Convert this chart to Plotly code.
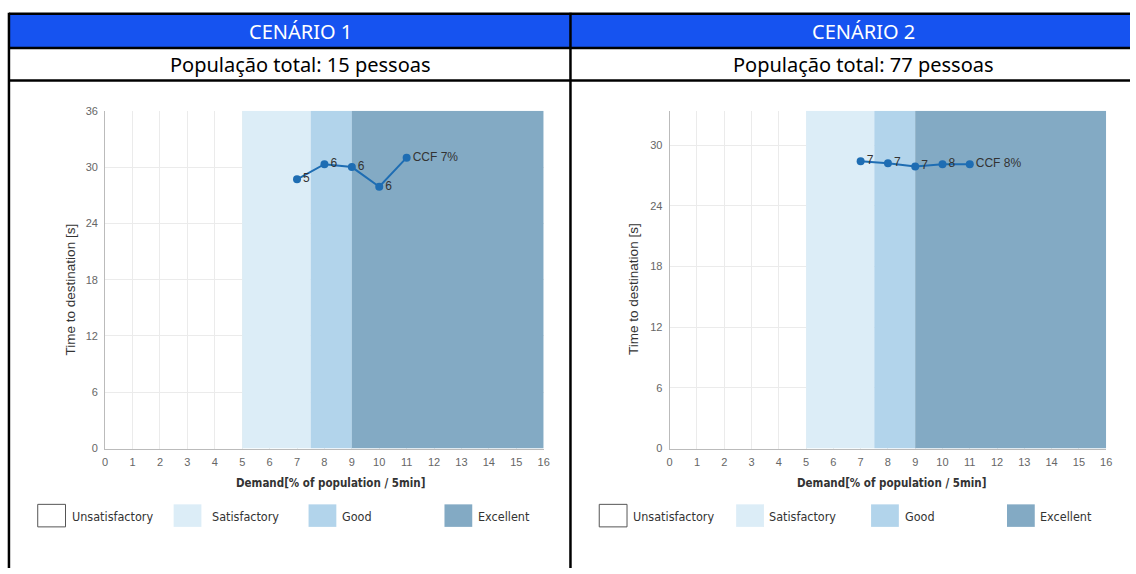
import plotly.graph_objects as go

W, H = 1136, 574

# data
demand = [7, 8, 9, 10, 11]
time_s1 = [28.7, 30.3, 30.0, 27.9, 31.0]
labels_s1 = ["5", "6", "6", "6", "CCF 7%"]
time_s2 = [28.4, 28.2, 27.9, 28.1, 28.1]
labels_s2 = ["7", "7", "7", "8", "CCF 8%"]

scenario_titles = ["CENÁRIO 1", "CENÁRIO 2"]
population_titles = ["População total: 15 pessoas", "População total: 77 pessoas"]

band_names = ["Unsatisfactory", "Satisfactory", "Good", "Excellent"]
band_edges = [0, 5, 7.5, 9, 16]
band_colors = ["#FFFFFF", "#DCEDF7", "#B2D4EB", "#83AAC4"]

x_ticks = list(range(0, 17))
y_ticks_s1 = [0, 6, 12, 18, 24, 30, 36]
y_ticks_s2 = [0, 6, 12, 18, 24, 30]
y_max = [36, 33.4]


def px(x):
    return x / W


def py(y):
    return 1 - y / H


TICK_FONT = dict(family="Liberation Sans, Arial", size=11, color="#666")
NARROW = "DejaVu Sans Condensed, Roboto, Liberation Sans"

fig = go.Figure()

# performance bands as bars, so they sit above the grid
band_mid = [(band_edges[b] + band_edges[b + 1]) / 2 for b in range(1, 4)]
band_w = [band_edges[b + 1] - band_edges[b] for b in range(1, 4)]
for i in range(2):
    fig.add_trace(go.Bar(
        x=band_mid, y=[y_max[i]] * 3, width=band_w,
        marker=dict(color=band_colors[1:], line=dict(width=0)),
        xaxis="x" if i == 0 else "x2", yaxis="y" if i == 0 else "y2",
        showlegend=False, hoverinfo="skip",
    ))

series = [(time_s1, labels_s1), (time_s2, labels_s2)]
for i, (ys, labs) in enumerate(series):
    fig.add_trace(go.Scatter(
        x=demand, y=ys, text=labs, mode="lines+markers+text",
        textposition="middle right",
        textfont=dict(family="Liberation Sans, Arial", size=12, color="#333"),
        line=dict(color="#1E6DB3", width=2),
        marker=dict(color="#1E6DB3", size=8),
        xaxis="x" if i == 0 else "x2", yaxis="y" if i == 0 else "y2",
        showlegend=False, cliponaxis=False,
    ))

x_domains = [[px(103), px(545)], [px(672), px(1112)]]
y_domain = [py(452), py(107)]
y_ticks = [y_ticks_s1, y_ticks_s2]

for i in range(2):
    xa = dict(domain=x_domains[i], range=[0, 16], tickvals=x_ticks,
              showgrid=True, gridcolor="#EBEBEB", gridwidth=1,
              showline=True, linecolor="#BBBBBB", linewidth=1,
              ticks="", tickfont=TICK_FONT, zeroline=False, fixedrange=True,
              ticklabelstandoff=3)
    ya = dict(domain=y_domain, range=[0, y_max[i]], tickvals=y_ticks[i],
              showgrid=True, gridcolor="#EBEBEB", gridwidth=1,
              showline=True, linecolor="#BBBBBB", linewidth=1,
              ticks="", tickfont=TICK_FONT, zeroline=False, fixedrange=True,
              ticklabelstandoff=4)
    if i == 0:
        ya["anchor"] = "x"
        xa["anchor"] = "y"
        fig.update_layout(xaxis=xa, yaxis=ya)
    else:
        ya["anchor"] = "x2"
        xa["anchor"] = "y2"
        fig.update_layout(xaxis2=xa, yaxis2=ya)

shapes = []
annotations = []

# table frame
shapes.append(dict(type="rect", xref="paper", yref="paper",
                   x0=px(7), x1=px(1136), y0=py(42), y1=py(9),
                   fillcolor="#1653F0", line=dict(width=0), layer="below"))
for yy in [8, 43, 76]:
    shapes.append(dict(type="line", xref="paper", yref="paper",
                       x0=px(6), x1=px(1136), y0=py(yy), y1=py(yy),
                       line=dict(color="#000", width=2.5)))
for xx in [6, 572]:
    shapes.append(dict(type="line", xref="paper", yref="paper",
                       x0=px(xx), x1=px(xx), y0=py(7), y1=py(574),
                       line=dict(color="#000", width=2.5)))

header_cx = [300, 867]
for i in range(2):
    annotations.append(dict(text=scenario_titles[i], x=px(header_cx[i]), y=py(26),
                            xref="paper", yref="paper", showarrow=False,
                            xanchor="center", yanchor="middle",
                            font=dict(family="Noto Sans", size=20, color="white")))
    annotations.append(dict(text=population_titles[i], x=px(header_cx[i]), y=py(60),
                            xref="paper", yref="paper", showarrow=False,
                            xanchor="center", yanchor="middle",
                            font=dict(family="Noto Sans", size=20, color="black")))

# axis titles
ytitle_x = [68, 636]
xtitle_cx = [330, 896]
for i in range(2):
    annotations.append(dict(text="Time to destination [s]", x=px(ytitle_x[i]), y=py(289),
                            xref="paper", yref="paper", showarrow=False, textangle=-90,
                            xanchor="center", yanchor="middle",
                            font=dict(family="Liberation Sans, Arial", size=13.5, color="#333")))
    annotations.append(dict(text="<b>Demand[% of population / 5min]</b>",
                            x=px(xtitle_cx[i]), y=py(487),
                            xref="paper", yref="paper", showarrow=False,
                            xanchor="center", yanchor="middle",
                            font=dict(family=NARROW, size=11.5, color="#333")))

# legends
legend_box_x = [[35, 172, 308, 445], [601, 739, 875, 1012]]
legend_text_x = [[68, 209, 340, 477], [633, 770, 907, 1043]]
for i in range(2):
    for b, name in enumerate(band_names):
        x0 = legend_box_x[i][b]
        if b == 0:
            shapes.append(dict(type="rect", xref="paper", yref="paper",
                               x0=px(x0), x1=px(x0 + 28), y0=py(532), y1=py(509),
                               fillcolor="white", line=dict(color="#555", width=1)))
        else:
            shapes.append(dict(type="rect", xref="paper", yref="paper",
                               x0=px(x0), x1=px(x0 + 28), y0=py(532), y1=py(509),
                               fillcolor=band_colors[b], line=dict(width=0)))
        annotations.append(dict(text=name, x=px(legend_text_x[i][b]), y=py(521),
                                xref="paper", yref="paper", showarrow=False,
                                xanchor="left", yanchor="middle",
                                font=dict(family=NARROW, size=12.5, color="#333")))

fig.update_layout(
    width=W, height=H, margin=dict(l=0, r=0, t=0, b=0),
    paper_bgcolor="white", plot_bgcolor="white",
    shapes=shapes, annotations=annotations,
)

page_fix = ("document.body.style.margin='0';"
            "document.body.style.overflow='hidden';"
            "document.documentElement.style.overflow='hidden';")
fig.write_html("out.html", config={"displayModeBar": False}, post_script=page_fix)
